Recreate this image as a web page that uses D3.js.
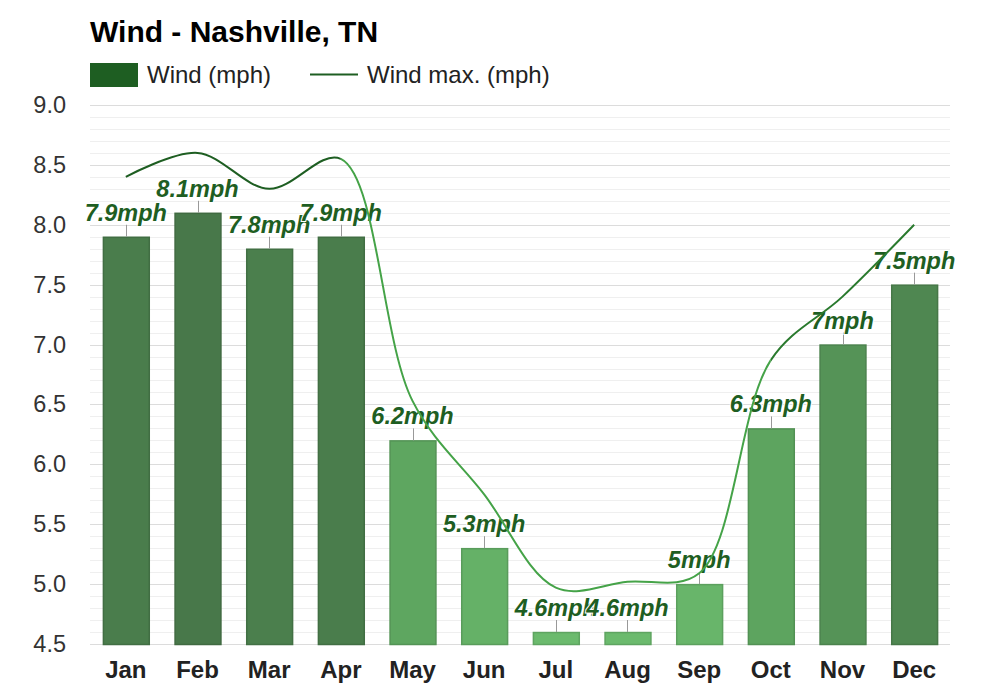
<!DOCTYPE html>
<html><head><meta charset="utf-8">
<script src="https://cdn.jsdelivr.net/npm/d3@7"></script>
<style>
body{margin:0;background:#fff;}
svg text{font-family:"Liberation Sans",Arial,sans-serif;}
</style></head>
<body><svg id="c" width="1000" height="700"></svg>
<script>
const months = ["Jan","Feb","Mar","Apr","May","Jun","Jul","Aug","Sep","Oct","Nov","Dec"];
const windAvg = [7.9, 8.1, 7.8, 7.9, 6.2, 5.3, 4.6, 4.6, 5, 6.3, 7, 7.5];
const windMax = [8.4, 8.6, 8.3, 8.55, 6.53, 5.75, 4.97, 5.02, 5.09, 6.87, 7.4, 8.0];
const yTicks = [4.5, 5.0, 5.5, 6.0, 6.5, 7.0, 7.5, 8.0, 8.5, 9.0];
const title = "Wind - Nashville, TN";
const legendLabels = ["Wind (mph)", "Wind max. (mph)"];
const unit = "mph";

const svg = d3.select("#c");
const L = 90, R = 950, T = 105, B = 644;
const x = d3.scaleBand().domain(months).range([L, R]).paddingInner(0.36).paddingOuter(0.18);
const y = d3.scaleLinear().domain([4.5, 9.0]).range([B, T]);
const FF = '"Liberation Sans",Arial,sans-serif';

// title
svg.append("text").attr("x", 90).attr("y", 42).attr("font-size", 30).attr("font-weight", "bold")
  .attr("fill", "#000").text(title);

// legend
svg.append("rect").attr("x", 90).attr("y", 63).attr("width", 48).attr("height", 24).attr("fill", "#1e5e22");
svg.append("text").attr("x", 147).attr("y", 83).attr("font-size", 24).attr("fill", "#222").text(legendLabels[0]);
svg.append("line").attr("x1", 310).attr("x2", 358).attr("y1", 74.5).attr("y2", 74.5).attr("stroke", "#1e5e22").attr("stroke-width", 2);
svg.append("text").attr("x", 367).attr("y", 83).attr("font-size", 24).attr("fill", "#222").text(legendLabels[1]);

// grid
const minor = d3.range(45, 91).map(d => d / 10);
svg.append("g").selectAll("line").data(minor).join("line")
  .attr("x1", L).attr("x2", R).attr("y1", d => Math.round(y(d)) + 0.5).attr("y2", d => Math.round(y(d)) + 0.5)
  .attr("stroke", "#efefef").attr("stroke-width", 1);
svg.append("g").selectAll("line").data(yTicks).join("line")
  .attr("x1", L).attr("x2", R).attr("y1", d => Math.round(y(d)) + 0.5).attr("y2", d => Math.round(y(d)) + 0.5)
  .attr("stroke", "#dcdcdc").attr("stroke-width", 1);

// y axis labels
const yAxis = d3.axisLeft(y).tickValues(yTicks).tickFormat(d3.format(".1f")).tickSize(0).tickPadding(0);
const ya = svg.append("g").attr("transform", "translate(66,0)").call(yAxis);
ya.select(".domain").remove();
ya.selectAll("text").attr("font-size", 23.5).attr("fill", "#333").attr("font-family", FF);

// x axis labels
const xAxis = d3.axisBottom(x).tickSize(0).tickPadding(0);
const xa = svg.append("g").attr("transform", `translate(0,${B})`).call(xAxis);
xa.select(".domain").remove();
xa.selectAll("text").attr("font-size", 24).attr("font-weight", "bold").attr("fill", "#222")
  .attr("dy", 0).attr("y", 34).attr("font-family", FF);

// bars
const col = d3.scaleLinear().domain([4.6, 6.2, 7.9]).range(["#6bba6d", "#5ea660", "#4a7d4c"]);
svg.append("g").selectAll("rect").data(windAvg).join("rect")
  .attr("x", (d, i) => x(months[i]) + 0.5)
  .attr("width", x.bandwidth())
  .attr("y", d => y(d) + 0.5)
  .attr("height", d => B - y(d))
  .attr("fill", d => col(d))
  .attr("stroke", d => d3.color(col(d)).darker(0.35))
  .attr("stroke-width", 1.5);

// connectors
svg.append("g").selectAll("line").data(windAvg).join("line")
  .attr("x1", (d, i) => Math.round(x(months[i]) + x.bandwidth() / 2) + 0.5)
  .attr("x2", (d, i) => Math.round(x(months[i]) + x.bandwidth() / 2) + 0.5)
  .attr("y1", d => y(d)).attr("y2", d => y(d) - 12)
  .attr("stroke", "#999").attr("stroke-width", 1);

// labels
svg.append("g").selectAll("text").data(windAvg).join("text")
  .attr("x", (d, i) => x(months[i]) + x.bandwidth() / 2)
  .attr("y", d => y(d) - 16)
  .attr("text-anchor", "middle")
  .attr("font-size", 23.5).attr("font-weight", "bold").attr("font-style", "italic")
  .attr("fill", "#1e5e22")
  .attr("stroke", "#fff").attr("stroke-width", 2).attr("paint-order", "stroke")
  .text(d => d + unit);

// line
const cx = i => x(months[i]) + x.bandwidth() / 2;
const line = d3.line()
  .x((d, i) => cx(i))
  .y(d => y(d))
  .curve(d3.curveCatmullRom.alpha(0.5));
const zones = [
  {x0: 0, x1: cx(3), c: "#1e5e22"},
  {x0: cx(3), x1: cx(9), c: "#45a348"},
  {x0: cx(9), x1: 1000, c: "#2a7a2e"}
];
const defs = svg.append("defs");
zones.forEach((z, k) => {
  defs.append("clipPath").attr("id", "z" + k).append("rect")
    .attr("x", z.x0).attr("y", 0).attr("width", z.x1 - z.x0).attr("height", 700);
  svg.append("path").attr("d", line(windMax)).attr("fill", "none")
    .attr("stroke", z.c).attr("stroke-width", 2).attr("clip-path", `url(#z${k})`);
});
</script></body></html>
